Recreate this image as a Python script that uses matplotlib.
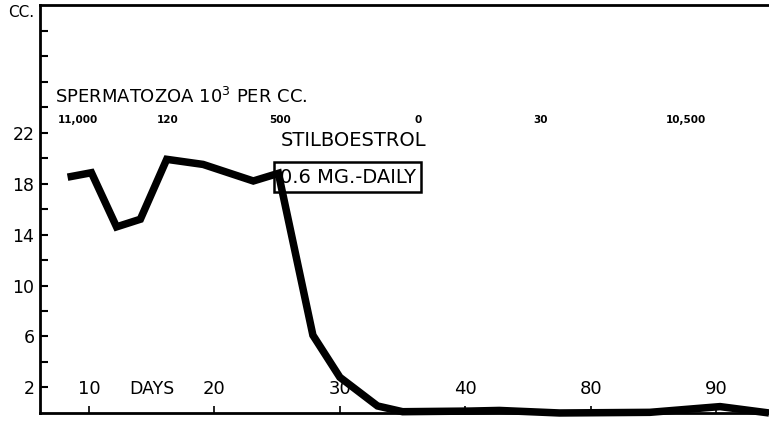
import numpy as np
import matplotlib
matplotlib.use("Agg")
import matplotlib.pyplot as plt

# x positions are in "chart days" (axis is broken after day 40: 80 -> 50, 90 -> 60)
days_pos = [8.3, 10.2, 12.2, 14.1, 16.2, 19.1, 23.1, 25.1, 27.85, 30.0, 33.0, 35.0,
            40.4, 42.7, 47.5, 54.7, 60.3, 64.2]
volume_cc = [18.5, 18.85, 14.6, 15.2, 19.9, 19.5, 18.2, 18.8, 6.1, 2.8, 0.55, 0.1,
             0.15, 0.2, 0.0, 0.05, 0.5, 0.0]

day_tick_pos = [10, 20, 30, 40, 50, 60]
day_tick_labels = ["10", "20", "30", "40", "80", "90"]
y_label_vals = [2, 6, 10, 14, 18, 22]

sperm_pos = [9.1, 16.3, 25.2, 36.2, 46.0, 57.6]
sperm_counts = ["11,000", "120", "500", "0", "30", "10,500"]


def main():
    fig = plt.figure(figsize=(7.69, 4.24), dpi=100)
    ax = fig.add_axes([0.052, 0.026, 0.948, 0.962])

    ax.plot(days_pos, volume_cc, color="black", lw=5.4, solid_joinstyle="miter",
            solid_capstyle="butt", clip_on=False, zorder=3)

    ax.set_xlim(6.1, 64.2)
    ax.set_ylim(0, 32)

    for s in ["left", "bottom", "top"]:
        ax.spines[s].set_linewidth(2)
    ax.spines["right"].set_visible(False)

    # y ticks every 2 cc, labels every 4
    ax.set_yticks(np.arange(2, 31, 2))
    ax.set_yticklabels([str(v) if v in y_label_vals else "" for v in np.arange(2, 31, 2)])
    ax.tick_params(axis="y", direction="in", length=6, width=1.5, labelsize=12.5, pad=4)
    ax.text(-0.008, 31.4, "CC.", transform=ax.get_yaxis_transform(), ha="right",
            va="center", fontsize=11)

    # day ticks inside, labels drawn above the axis
    ax.set_xticks(day_tick_pos)
    ax.set_xticklabels([])
    ax.tick_params(axis="x", direction="in", length=5, width=1.2)
    for p, lab in zip(day_tick_pos, day_tick_labels):
        ax.text(p, 1.9, lab, ha="center", va="center", fontsize=13)
    ax.text(15.0, 1.9, "DAYS", ha="center", va="center", fontsize=12.5)

    # spermatozoa counts
    ax.text(7.3, 24.8, "SPERMATOZOA 10$^3$ PER CC.", ha="left", va="center", fontsize=13)
    for p, c in zip(sperm_pos, sperm_counts):
        ax.text(p, 23.0, c, ha="center", va="center", fontsize=7.5, fontweight="bold")

    ax.text(31.1, 21.4, "STILBOESTROL", ha="center", va="center", fontsize=14)
    ax.text(25.2, 18.5, "0.6 MG.-DAILY", ha="left", va="center", fontsize=14,
            zorder=2, bbox=dict(boxstyle="square,pad=0.3", fc="white", ec="black", lw=1.8))

    fig.savefig("out.png", dpi=100)


if __name__ == "__main__":
    main()
